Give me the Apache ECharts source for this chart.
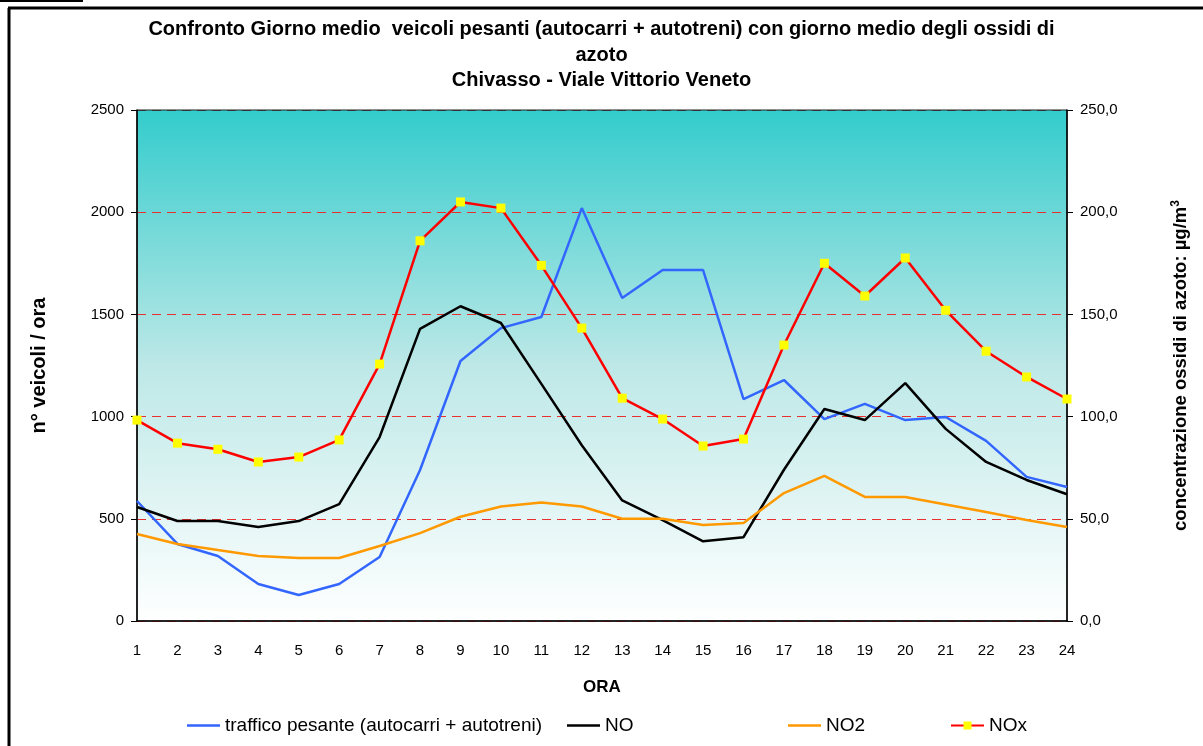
<!DOCTYPE html>
<html>
<head>
<meta charset="utf-8">
<script src="https://cdn.jsdelivr.net/npm/echarts@6/dist/echarts.min.js"></script>
<style>
  html, body { margin: 0; padding: 0; background: #fff; }
  #chart { width: 1203px; height: 746px; }
</style>
</head>
<body>
<div id="chart"></div>
<script>
// Ore del giorno (giorno medio)
const hours = ['1','2','3','4','5','6','7','8','9','10','11','12','13','14','15','16','17','18','19','20','21','22','23','24'];

// Veicoli pesanti per ora (asse sinistro)
const traffico = [587, 377, 318, 181, 127, 181, 313, 739, 1272, 1433, 1487, 2020, 1580, 1717, 1717, 1086, 1179, 988, 1062, 983, 998, 881, 705, 656];

// Ossidi di azoto, µg/m³ (asse destro)
const no  = [55.8, 48.9, 48.9, 46.0, 48.9, 57.2, 90.0, 142.9, 154.0, 145.8, 116.0, 86.0, 59.0, 49.4, 39.0, 41.0, 74.0, 103.7, 98.3, 116.4, 94.0, 77.8, 69.0, 62.0];
const no2 = [42.6, 37.7, 34.7, 31.8, 30.8, 30.8, 36.7, 43.0, 51.0, 56.0, 58.0, 56.0, 50.0, 50.0, 47.0, 48.0, 62.6, 71.0, 60.7, 60.7, 57.0, 53.3, 49.4, 46.0];
const nox = [98.3, 87.0, 84.0, 77.8, 80.2, 88.6, 125.7, 186.0, 205.0, 202.0, 174.0, 143.3, 109.0, 98.8, 85.6, 89.0, 135.0, 175.0, 159.0, 177.6, 152.0, 132.0, 119.4, 108.6];

const leftMax = 2500, leftStep = 500;
const rightMax = 250, rightStep = 50;

const FONT = 'Liberation Sans, Arial, sans-serif';
const GRID_RED = '#E8302E';
const chart = echarts.init(document.getElementById('chart'));

// thin horizontal stroke inside a 33x10 box (corner dots keep the box size)
const LINE_ICON = 'path://M0,3.8 L33,3.8 L33,6.2 L0,6.2 Z M0,0 L0.01,0 L0,0.01 Z M33,10 L32.99,10 L33,9.99 Z';

const legendBase = {
  top: 716,
  padding: 0,
  itemWidth: 33,
  itemHeight: 10,
  itemGap: 0,
  textStyle: { fontFamily: FONT, fontSize: 19, color: '#000' },
  selectedMode: false
};

chart.setOption({
  animation: false,
  backgroundColor: '#fff',
  title: {
    text: 'Confronto Giorno medio  veicoli pesanti (autocarri + autotreni) con giorno medio degli ossidi di\nazoto\nChivasso - Viale Vittorio Veneto',
    left: 'center',
    top: 17,
    padding: 0,
    textStyle: { fontFamily: FONT, fontSize: 20, fontWeight: 'bold', color: '#000', lineHeight: 25.5 }
  },
  grid: {
    left: 137, right: 136, top: 110, bottom: 125,
    show: true,
    borderColor: '#222',
    borderWidth: 1,
    backgroundColor: {
      type: 'linear', x: 0, y: 0, x2: 0, y2: 1,
      colorStops: [
        { offset: 0, color: '#33CCCC' },
        { offset: 0.5, color: '#BDE8E7' },
        { offset: 1, color: '#FFFFFF' }
      ]
    }
  },
  legend: [
    Object.assign({}, legendBase, { left: 187, data: [{ name: 'traffico pesante (autocarri + autotreni)', icon: LINE_ICON }] }),
    Object.assign({}, legendBase, { left: 567, data: [{ name: 'NO', icon: LINE_ICON }] }),
    Object.assign({}, legendBase, { left: 788, data: [{ name: 'NO2', icon: LINE_ICON }] }),
    Object.assign({}, legendBase, { left: 950, data: ['NOx'] })
  ],
  xAxis: {
    type: 'category',
    data: hours,
    boundaryGap: false,
    name: 'ORA',
    nameLocation: 'middle',
    nameGap: 58,
    nameTextStyle: { fontFamily: FONT, fontSize: 17, fontWeight: 'bold', color: '#000' },
    axisLine: { lineStyle: { color: '#000', width: 1.5 } },
    axisTick: { show: false },
    axisLabel: { fontFamily: FONT, fontSize: 15, color: '#000', margin: 22 }
  },
  yAxis: [
    {
      type: 'value',
      min: 0, max: leftMax, interval: leftStep,
      name: 'n° veicoli / ora',
      nameLocation: 'middle',
      nameGap: 88,
      nameRotate: 90,
      nameTextStyle: { fontFamily: FONT, fontSize: 20, fontWeight: 'bold', color: '#000' },
      axisLine: { show: true, lineStyle: { color: '#000', width: 1.5 } },
      axisTick: { show: true, length: 6, lineStyle: { color: '#000' } },
      axisLabel: { fontFamily: FONT, fontSize: 15, color: '#000', margin: 13, formatter: v => String(v) },
      splitLine: {
        show: true,
        lineStyle: { color: [GRID_RED, GRID_RED, GRID_RED, GRID_RED, GRID_RED, '#333'], type: [9, 6], width: 1 }
      }
    },
    {
      type: 'value',
      min: 0, max: rightMax, interval: rightStep,
      position: 'right',
      name: 'concentrazione ossidi di azoto: µg/m{sup|3}',
      nameLocation: 'middle',
      nameGap: 103,
      nameRotate: 90,
      nameTextStyle: {
        fontFamily: FONT, fontSize: 18.5, fontWeight: 'bold', color: '#000',
        rich: { sup: { fontFamily: FONT, fontSize: 12, fontWeight: 'bold', color: '#000', verticalAlign: 'top', padding: [0, 0, 9, 0] } }
      },
      axisLine: { show: true, lineStyle: { color: '#000', width: 1.5 } },
      axisTick: { show: true, length: 6, lineStyle: { color: '#000' } },
      axisLabel: {
        fontFamily: FONT, fontSize: 15, color: '#000', margin: 13,
        formatter: v => v.toFixed(1).replace('.', ',')
      },
      splitLine: { show: false }
    }
  ],
  series: [
    {
      name: 'traffico pesante (autocarri + autotreni)',
      type: 'line', yAxisIndex: 0, data: traffico,
      symbol: 'none',
      lineStyle: { color: '#3366FF', width: 2.5 },
      itemStyle: { color: '#3366FF' }
    },
    {
      name: 'NO',
      type: 'line', yAxisIndex: 1, data: no,
      symbol: 'none',
      lineStyle: { color: '#000000', width: 2.5 },
      itemStyle: { color: '#000000' }
    },
    {
      name: 'NO2',
      type: 'line', yAxisIndex: 1, data: no2,
      symbol: 'none',
      lineStyle: { color: '#FF9900', width: 2.5 },
      itemStyle: { color: '#FF9900' }
    },
    {
      name: 'NOx',
      type: 'line', yAxisIndex: 1, data: nox,
      symbol: 'rect', symbolSize: 9,
      lineStyle: { color: '#FF0000', width: 2.5 },
      itemStyle: { color: '#FFFF00', borderWidth: 0 }
    }
  ],
  graphic: [
    { type: 'line', silent: true, shape: { x1: 8, y1: 8, x2: 1203, y2: 8 }, style: { stroke: '#000', lineWidth: 3 } },
    { type: 'line', silent: true, shape: { x1: 9, y1: 8, x2: 9, y2: 746 }, style: { stroke: '#000', lineWidth: 3 } },
    { type: 'line', silent: true, shape: { x1: 0, y1: 1, x2: 83, y2: 1 }, style: { stroke: '#000', lineWidth: 2 } }
  ]
});
</script>
</body>
</html>
